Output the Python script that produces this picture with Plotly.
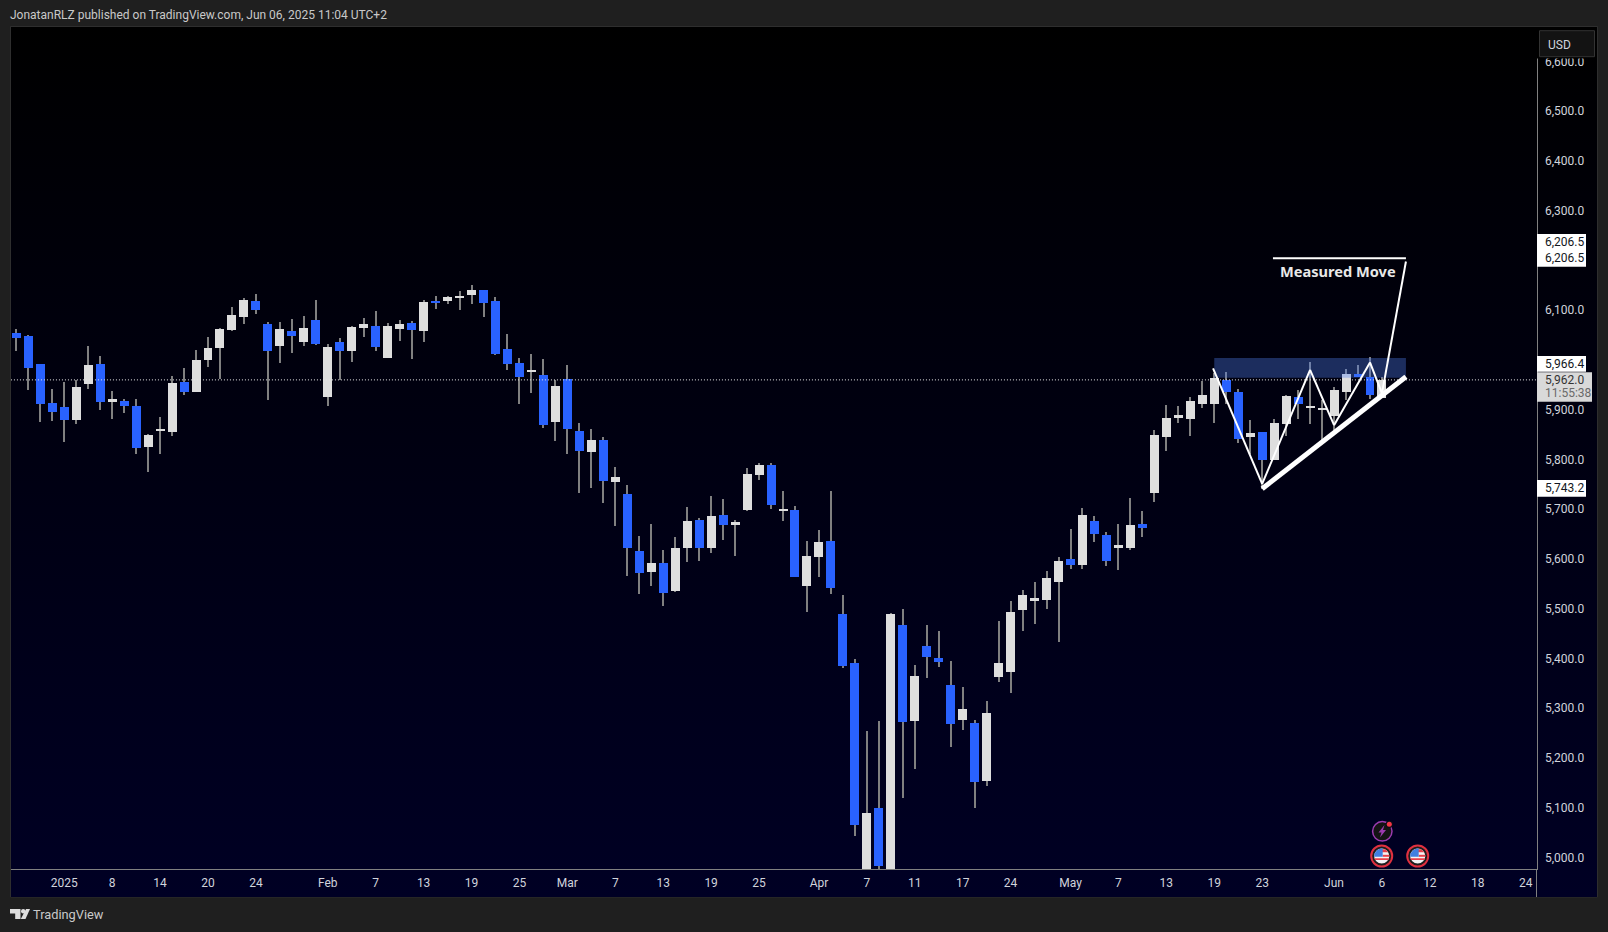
import plotly.graph_objects as go

W, H = 1608, 932

# ---------- data (price values; bars run day by day, weekends closed) ----------
opens = [6056,6050,5994,5916,5908,5881,5954,5994,5918,5920,5910,5827,5860,5857,5958,5938,6002,6026,6062,6088,
         6121,6074,6030,6060,6038,6082,5928,6038,6020,6066,6070,6006,6064,6076,6060,6119,6121,6127,6133,6143,
         6121,6024,5996,5979,5972,5877,5964,5859,5817,5841,5757,5733,5618,5576,5594,5538,5624,5680,5624,5690,
         5670,5701,5771,5791,5699,5701,5548,5606,5638,5492,5393,4960,5102,4965,5469,5276,5427,5403,5349,5278,
         5272,5156,5365,5375,5500,5518,5520,5556,5602,5590,5678,5650,5624,5624,5672,5735,5847,5885,5883,5914,
         5914,5962,5938,5847,5857,5801,5873,5928,5906,5902,5889,5938,5974,5968,5926]
highs = [6064,6052,5994,5944,5958,5962,6030,6010,5940,5924,5924,5853,5887,5970,5986,6022,6048,6066,6109,6127,
         6135,6078,6078,6084,6090,6123,6034,6046,6070,6086,6101,6076,6082,6080,6123,6131,6131,6141,6153,6143,
         6129,6054,6006,6014,6004,5962,5992,5875,5863,5847,5787,5751,5648,5672,5620,5646,5707,5684,5729,5723,
         5680,5785,5795,5795,5739,5709,5638,5660,5739,5530,5401,5256,5276,5494,5502,5389,5469,5457,5397,5345,
         5278,5317,5477,5518,5540,5556,5578,5606,5662,5705,5688,5656,5672,5725,5699,5861,5912,5910,5928,5960,
         5975,5978,5944,5881,5857,5883,5932,5942,5998,5922,5948,5984,5992,6008,5968]
lows = [6020,5942,5877,5879,5837,5873,5944,5902,5883,5896,5813,5777,5813,5849,5932,5938,5988,5964,6060,6074,
        6095,5922,5996,6016,6030,6032,5910,5961,5998,6048,6020,6006,6040,6004,6038,6105,6115,6103,6115,6088,
        6012,5982,5914,5936,5865,5839,5813,5735,5745,5715,5668,5568,5532,5548,5508,5536,5596,5598,5614,5640,
        5608,5699,5761,5703,5678,5566,5496,5566,5532,5383,5045,4830,4945,4945,5122,5180,5363,5385,5224,5258,
        5102,5146,5355,5333,5457,5471,5502,5435,5582,5582,5636,5588,5580,5620,5646,5717,5819,5875,5849,5906,
        5875,5914,5835,5814,5743.2,5801,5849,5883,5873,5841,5861,5922,5968,5924,5925]
closes = [6046,5986,5914,5898,5881,5948,5992,5918,5924,5910,5825,5851,5861,5956,5938,6002,6026,6064,6092,6123,
          6103,6020,6064,6050,6066,6034,6028,6020,6068,6074,6028,6070,6074,6062,6119,6117,6129,6131,6143,6117,
          6014,5994,5968,5980,5871,5950,5863,5819,5841,5759,5767,5624,5574,5594,5534,5624,5678,5624,5688,5670,
          5676,5773,5791,5711,5703,5566,5608,5636,5544,5387,5067,5092,4985,5492,5274,5367,5405,5395,5270,5301,
          5154,5293,5393,5496,5530,5524,5564,5598,5590,5690,5652,5598,5630,5670,5664,5851,5885,5891,5920,5932,
          5966,5938,5843,5855,5801,5875,5930,5914,5908,5904,5942,5974,5968,5932,5962]

x_tick_bars = [4,8,12,16,20,26,30,34,38,42,46,50,54,58,62,67,71,75,79,83,88,92,96,100,104,110,114,118,122,126]
x_tick_text = ["2025","8","14","20","24","Feb","7","13","19","25","Mar","7","13","19","25","Apr","7","11","17","24",
               "May","7","13","19","23","Jun","6","12","18","24"]
y_ticks = [5000,5100,5200,5300,5400,5500,5600,5700,5800,5900,6100,6300,6400,6500,6600]

last_price = 5962.0
zone_prices = (5966.4, 6006.0)
zone_bars = (100, 116)
pattern_bars = [99.9, 104, 108, 110, 113, 114, 116]
pattern_prices = [5985, 5753, 5982, 5871, 5997, 5935, 6200]
trend_bars = (104, 116)
trend_prices = (5743.2, 5968.5)
target_bars = (104.9, 116)
target_price = 6206.5

BLUE, WHITE, WICK = "#2962ff", "#dedede", "#808080"
LABEL = "#d1d4dc"
FONT = "Roboto, sans-serif"

# ---------- helpers for page chrome (pixel -> paper fractions) ----------
px = lambda v: v / W
py = lambda v: 1 - v / H

def rect(x0, y0, x1, y1, **kw):
    return dict(type="rect", xref="paper", yref="paper", x0=px(x0), x1=px(x1), y0=py(y0), y1=py(y1), **kw)

def circle(cx, cy, r, **kw):
    return dict(type="circle", xref="paper", yref="paper", x0=px(cx-r), x1=px(cx+r), y0=py(cy+r), y1=py(cy-r), **kw)

def poly(points, **kw):
    path = "M " + " L ".join(f"{px(a):.5f},{py(b):.5f}" for a, b in points) + " Z"
    return dict(type="path", xref="paper", yref="paper", path=path, **kw)

def text(x, y, s, size=12, color=LABEL, anchor="left", **kw):
    return dict(xref="paper", yref="paper", x=px(x), y=py(y), text=s, showarrow=False, xanchor=anchor, yanchor="middle",
                font=dict(family=FONT, size=size, color=color), borderpad=0, borderwidth=0, **kw)

def flag(cx, cy):
    out = [circle(cx, cy, 10.5, fillcolor="#1e1e1e", line=dict(color="#e0303f", width=2)),
           circle(cx, cy, 7.6, fillcolor="#f4f4f4", line=dict(width=0))]
    out.append(poly([(cx-3.5, cy-6.7), (cx+3.5, cy-6.7), (cx+6.6, cy-3.8), (cx, cy-3.8)], fillcolor="#e8404a", line=dict(width=0)))
    out.append(poly([(cx+1, cy-1.2), (cx+7.6, cy-1.2), (cx+7.6, cy+0.8), (cx+1, cy+0.8)], fillcolor="#e8404a", line=dict(width=0)))
    out.append(poly([(cx-7.4, cy+2.2), (cx+7.4, cy+2.2), (cx+6.6, cy+4), (cx-6.6, cy+4)], fillcolor="#e8404a", line=dict(width=0)))
    out.append(poly([(cx-7.6, cy+0.8), (cx-7.2, cy-2.6), (cx-4.5, cy-6), (cx-1, cy-7.6), (cx+1, cy-7.6), (cx+1, cy+0.8)], fillcolor="#3f7fe0", line=dict(width=0)))
    return out

# ---------- figure ----------
bars = list(range(len(opens)))
body_base = [min(o, c) for o, c in zip(opens, closes)]
body_size = [max(abs(c - o), 3) for o, c in zip(opens, closes)]
body_color = [WHITE if c >= o else BLUE for o, c in zip(opens, closes)]

fig = go.Figure()
# panel background gradient (bottom subplot, hidden axes)
fig.add_trace(go.Scatter(x=[0, 1, 1, 0, 0], y=[0, 0, 1, 1, 0], mode="lines", line=dict(width=0), fill="toself",
                         fillgradient=dict(type="vertical", colorscale=[[0, "#000024"], [1, "#000000"]]),
                         hoverinfo="skip", showlegend=False, xaxis="x", yaxis="y"))
fig.add_trace(go.Bar(x=bars, y=[h - l for h, l in zip(highs, lows)], base=lows, width=0.085,
                     marker=dict(color=WICK, line=dict(width=0)), hoverinfo="skip", showlegend=False, xaxis="x2", yaxis="y2"))
fig.add_trace(go.Bar(x=bars, y=body_size, base=body_base, width=0.75, marker=dict(color=body_color, line=dict(width=0)),
                     showlegend=False, xaxis="x2", yaxis="y2",
                     customdata=list(zip(opens, highs, lows, closes)),
                     hovertemplate="O %{customdata[0]} H %{customdata[1]} L %{customdata[2]} C %{customdata[3]}<extra></extra>"))

shapes = [
    rect(10.5, 26.5, 1597.5, 897, line=dict(color="#2e2e2e", width=1), layer="below"),
    dict(type="line", xref="x2", yref="y2", x0=-0.45, x1=126.9, y0=last_price, y1=last_price,
         line=dict(color="#e8e8e8", width=1, dash="1px,2px")),
    dict(type="rect", xref="x2", yref="y2", x0=zone_bars[0], x1=zone_bars[1], y0=zone_prices[0], y1=zone_prices[1],
         fillcolor="rgba(80,128,243,0.35)", line=dict(width=0)),
    dict(type="line", xref="x2", yref="y2", x0=trend_bars[0], x1=trend_bars[1], y0=trend_prices[0], y1=trend_prices[1],
         line=dict(color="#ffffff", width=5)),
    dict(type="line", xref="x2", yref="y2", x0=target_bars[0], x1=target_bars[1], y0=target_price, y1=target_price,
         line=dict(color="#ffffff", width=2)),
    dict(type="line", xref="paper", yref="paper", x0=px(1536.5), x1=px(1536.5), y0=py(869), y1=py(897),
         line=dict(color=WICK, width=1)),
    # price-scale labels
    rect(1537, 234, 1586, 266.7, fillcolor="#ffffff", line=dict(width=0)),
    rect(1537, 356, 1586, 371.7, fillcolor="#ffffff", line=dict(width=0)),
    rect(1537, 372.3, 1592, 401.7, fillcolor="#d9d9d9", line=dict(width=0)),
    rect(1537, 480, 1586, 496.7, fillcolor="#ffffff", line=dict(width=0)),
    rect(1537, 27, 1597, 58.5, fillcolor="#000000", line=dict(width=0)),
    rect(1539.5, 30.7, 1594.5, 56.7, fillcolor="#131313", line=dict(color="#333333", width=1)),
    # event markers
    circle(1382.3, 831.3, 9.7, fillcolor="#141414", line=dict(color="#9c3bb0", width=1.5)),
    poly([(1384.5, 825), (1378.5, 832.5), (1381.5, 832.5), (1380, 837.5), (1386, 830), (1383, 830)], fillcolor="#9c3bb0", line=dict(width=0)),
    circle(1389.3, 824.3, 3.6, fillcolor="#0c0c18", line=dict(width=0)),
    circle(1389.3, 824.3, 2.5, fillcolor="#f23645", line=dict(width=0)),
] + flag(1381.7, 856) + flag(1417.7, 856) + [
    # TradingView logo
    poly([(10, 909), (20.5, 909), (20.5, 919), (15.2, 919), (15.2, 913.5), (10, 913.5)], fillcolor="#dddddd", line=dict(width=0)),
    circle(23.2, 911.2, 2.2, fillcolor="#dddddd", line=dict(width=0)),
    poly([(26, 909), (30, 909), (25.5, 919), (20.8, 919)], fillcolor="#dddddd", line=dict(width=0)),
]

# chart pattern polyline drawn as individual segments in price/bar coordinates
for i in range(len(pattern_bars) - 1):
    shapes.insert(3 + i, dict(type="line", xref="x2", yref="y2", x0=pattern_bars[i], x1=pattern_bars[i + 1],
                              y0=pattern_prices[i], y1=pattern_prices[i + 1], line=dict(color="#ffffff", width=2)))

annotations = [
    text(10, 14.6, "JonatanRLZ published on TradingView.com, Jun 06, 2025 11:04 UTC+2", size=12, color="#c9c9c9"),
    text(33, 914.8, "TradingView", size=12.8, color="#c9c9c9"),
    text(1559, 44.7, "USD", anchor="center"),
    text(1545, 242, "6,206.5", color="#131722"),
    text(1545, 258, "6,206.5", color="#131722"),
    text(1545, 364, "5,966.4", color="#131722"),
    text(1545, 380, "5,962.0", color="#333333"),
    text(1545, 393.3, "11:55:38", color="#6a6a6a"),
    text(1545, 488.3, "5,743.2", color="#131722"),
    dict(xref="x2", yref="y2", x=110.35, y=6180, text="<b>Measured Move</b>", showarrow=False,
         font=dict(family="Noto Sans, sans-serif", size=14.6, color="#e8e8e8")),
]

fig.update_layout(
    width=W, height=H, margin=dict(l=0, r=0, t=0, b=0), autosize=False,
    paper_bgcolor="#1f1f1f", plot_bgcolor="rgba(0,0,0,0)", showlegend=False,
    barmode="overlay", bargap=0, hovermode="closest",
    shapes=shapes, annotations=annotations,
    font=dict(family=FONT, size=12, color=LABEL),
    xaxis=dict(domain=[px(11), px(1597)], range=[0, 1], visible=False, fixedrange=True),
    yaxis=dict(domain=[py(897), py(27)], range=[0, 1], visible=False, fixedrange=True),
    xaxis2=dict(domain=[px(11), px(1536.5)], range=[-0.445, 126.9], anchor="y2", tickmode="array",
                tickvals=x_tick_bars, ticktext=x_tick_text, showgrid=False, zeroline=False, showline=True,
                linecolor=WICK, linewidth=1, ticks="outside", ticklen=3, tickcolor="rgba(0,0,0,0)",
                tickfont=dict(size=12, color=LABEL), fixedrange=True),
    yaxis2=dict(domain=[py(869), py(27)], range=[4978.9, 6671.3], anchor="x2", side="right", tickmode="array",
                tickvals=y_ticks, tickformat=",.1f", showgrid=False, zeroline=False, showline=True,
                linecolor=WICK, linewidth=1, ticks="outside", ticklen=5, tickcolor="rgba(0,0,0,0)",
                ticklabelshift=-1, tickfont=dict(size=12, color=LABEL), fixedrange=True),
)

fig.write_html("out.html", config=dict(displayModeBar=False),
               post_script="document.documentElement.style.height='932px';document.body.style.margin='0';document.body.style.height='932px';document.body.style.overflow='hidden';document.body.style.background='#1f1f1f';")
